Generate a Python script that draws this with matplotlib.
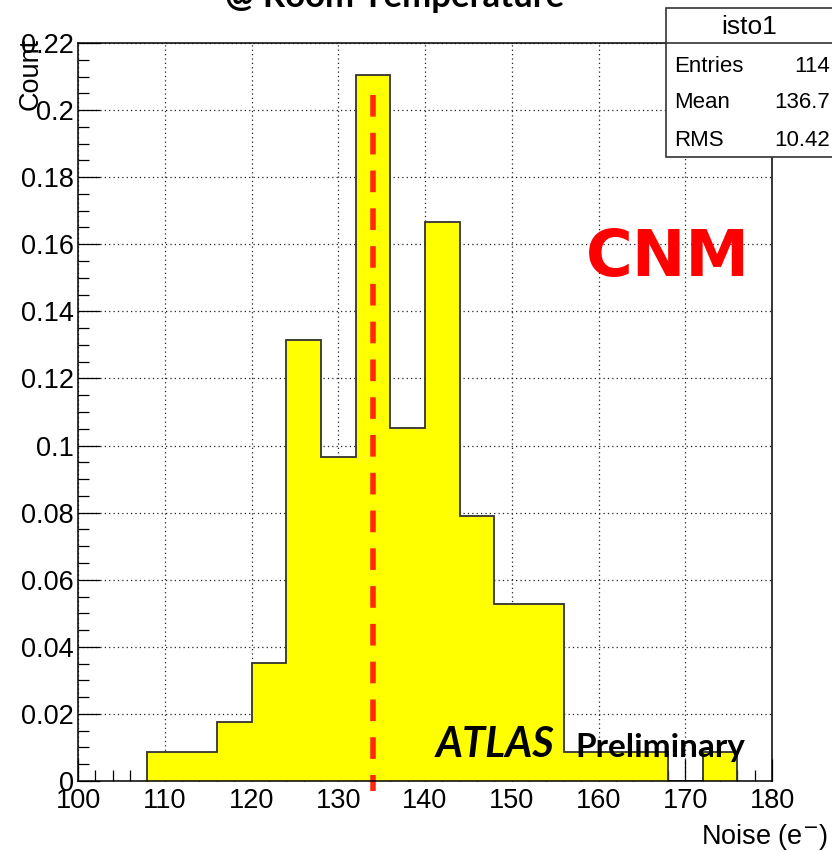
"""ROOT-style noise histogram, CNM sensors at room temperature."""

import numpy as np
import matplotlib

matplotlib.use("Agg")
from matplotlib import patches, pyplot as plt
from matplotlib.ticker import MultipleLocator

plt.rcParams["font.family"] = ["Liberation Sans", "DejaVu Sans"]

# histogram contents (4 e- bins starting at 108)
bin_edges = [108, 112, 116, 120, 124, 128, 132, 136, 140, 144,
             148, 152, 156, 160, 164, 168, 172, 176]
bin_counts = [1, 1, 2, 4, 15, 11, 24, 12, 19, 9, 6, 6, 1, 1, 1, 0, 1]
n_entries = 114

stats_name = "isto1"
stats_labels = ["Entries", "Mean", "RMS"]
stats_values = ["114", "136.7", "10.42"]

marker_x = 134  # red dashed reference line
marker_top = 0.2045

W, H = 832, 852
fig = plt.figure(figsize=(W / 100, H / 100), dpi=100)
ax = fig.add_axes([78 / W, 1 - 781 / H, (772 - 78) / W, (781 - 43) / H])

values = np.asarray(bin_counts, dtype=float) / n_entries
edges = np.asarray(bin_edges, dtype=float)

ax.stairs(values, edges, fill=True, color="#ffff00", zorder=2)
ax.stairs(values, edges, color="#333333", linewidth=1.3, baseline=0, zorder=3)

ax.plot([marker_x, marker_x], [marker_top, -0.003], color="#ff2a0a",
        linewidth=4.0, linestyle=(0, (3.9, 2.9)), solid_capstyle="butt",
        clip_on=False, zorder=5)

ax.set_xlim(100, 180)
ax.set_ylim(0, 0.22)
ax.xaxis.set_major_locator(MultipleLocator(10))
ax.xaxis.set_minor_locator(MultipleLocator(2))
ax.yaxis.set_major_locator(MultipleLocator(0.02))
ax.yaxis.set_minor_locator(MultipleLocator(0.005))
ax.yaxis.set_major_formatter(lambda v, pos: f"{v:g}")
ax.tick_params(which="major", direction="in", length=16, width=0.9,
               labelsize=19.5, pad=3)
ax.tick_params(which="minor", direction="in", length=8, width=0.9)
ax.tick_params(axis="x", pad=5)
ax.grid(True, which="major", color="#222222", linestyle=(0, (1, 2.5)),
        linewidth=0.9, zorder=1)
ax.set_axisbelow(True)
for sp in ax.spines.values():
    sp.set_linewidth(1.1)
    sp.set_zorder(6)

# title, cut at the top of the canvas
fig.text(395 / W, 1 - 7 / H, "@ Room Temperature", ha="center",
         va="baseline", fontsize=25, fontweight="bold", family="Lato")

fig.text(31 / W, 1 - 38 / H, "Count", rotation=90, ha="center", va="top",
         fontsize=19.5)
fig.text(828 / W, 1 - 844 / H, "Noise (e$^{-}$)", ha="right",
         va="baseline", fontsize=19.5)

ax.text(0.850, 0.709, "CNM", transform=ax.transAxes, ha="center",
        va="center", fontsize=46, fontweight="bold", color="#ff0000",
        family="DejaVu Sans", zorder=7)
ax.text(0.516, 0.032, "ATLAS", transform=ax.transAxes, ha="left",
        va="baseline", fontsize=30, fontweight="bold", style="italic",
        family="Lato", zorder=7)
ax.text(0.716, 0.032, "Preliminary", transform=ax.transAxes, ha="left",
        va="baseline", fontsize=24, fontweight="bold", family="Lato",
        zorder=7)

# stats box
box = patches.Rectangle((666 / W, 1 - 157 / H), 200 / W, 149 / H,
                        transform=fig.transFigure, facecolor="white",
                        edgecolor="#333333", linewidth=1.2, zorder=10)
fig.add_artist(box)
fig.add_artist(plt.Line2D([666 / W, 1.0], [1 - 43 / H, 1 - 43 / H],
                          transform=fig.transFigure, color="#333333",
                          linewidth=1.2, zorder=11))
fig.text(749 / W, 1 - 27 / H, stats_name, ha="center", va="center",
         fontsize=19, zorder=12)
for i, (lab, val) in enumerate(zip(stats_labels, stats_values)):
    y = 1 - (66 + 37 * i) / H
    fig.text(674 / W, y, lab, ha="left", va="center", fontsize=16, zorder=12)
    fig.text(830 / W, y, val, ha="right", va="center", fontsize=16,
             zorder=12)

fig.savefig("out.png", dpi=100)
